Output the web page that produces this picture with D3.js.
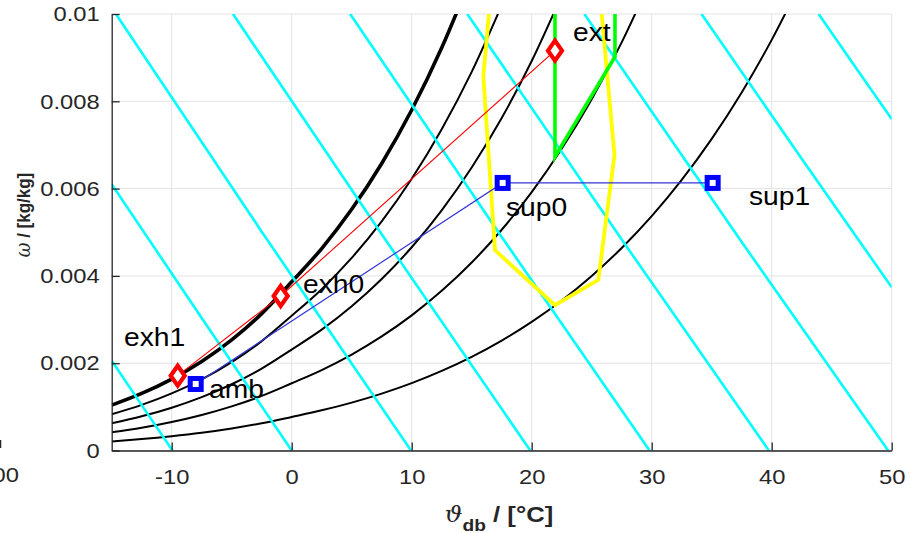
<!DOCTYPE html>
<html>
<head>
<meta charset="utf-8">
<script src="https://cdn.jsdelivr.net/npm/d3@7/dist/d3.min.js"></script>
<style>
  body { margin: 0; background: #fff; }
  svg { display: block; font-family: "Liberation Sans", Arial, sans-serif; }
</style>
</head>
<body>
<svg width="913" height="533"></svg>
<script>

// ---- chart values ----
var xTicks = [-10, 0, 10, 20, 30, 40, 50];
var xTickLabels = ["-10", "0", "10", "20", "30", "40", "50"];
var yTicks = [0, 0.002, 0.004, 0.006, 0.008, 0.01];
var yTickLabels = ["0", "0.002", "0.004", "0.006", "0.008", "0.01"];

// dry bulb temperatures used for the relative humidity curves
var rhTemps = [-15, -12.5, -10, -7.5, -5, -2.5, 0, 2.5, 5, 7.5, 10, 12.5, 15, 17.5,
               20, 22.5, 25, 27.5, 30, 32.5, 35, 37.5, 40, 42.5];
var rh100 = [0.00104, 0.001308, 0.001637, 0.002041, 0.002534, 0.003135, 0.003864, 0.004627,
             0.005525, 0.006575, 0.0078, 0.009225, 0.01088];
var rh80 = [0.000832, 0.001046, 0.001309, 0.001632, 0.002026, 0.002505, 0.003087, 0.003696,
            0.004412, 0.005249, 0.006224, 0.007359, 0.008674, 0.010197];
var rh60 = [0.000624, 0.000784, 0.000981, 0.001223, 0.001518, 0.001877, 0.002313, 0.002768,
            0.003303, 0.003928, 0.004656, 0.005503, 0.006483, 0.007617, 0.008923, 0.010426];
var rh40 = [0.000416, 0.000522, 0.000654, 0.000815, 0.001011, 0.00125, 0.00154, 0.001843,
            0.002198, 0.002613, 0.003096, 0.003658, 0.004307, 0.005057, 0.00592, 0.006912,
            0.008049, 0.00935, 0.010833];
var rh20 = [0.000208, 0.000261, 0.000327, 0.000407, 0.000505, 0.000624, 0.000769, 0.00092,
            0.001097, 0.001304, 0.001544, 0.001824, 0.002146, 0.002518, 0.002946, 0.003437,
            0.003999, 0.00464, 0.00537, 0.006199, 0.007139, 0.008204, 0.009407, 0.010762];

// constant enthalpy lines (kJ/kg): start / middle / end points
var enthalpy = [-10, 0, 10, 20, 30, 40, 50, 60, 70];
var hT = [[-15, -12.5, -9.94], [-15, -7.5, 0], [-14.65, -2.5, 9.94], [-4.89, 7.5, 19.88],
          [4.87, 17.5, 29.82], [14.63, 27.5, 39.76], [24.39, 37.5, 49.7], [34.15, 42.5, 50],
          [43.91, 47, 50]];
var hW = [[0.002058, 0.001039, 0], [0.006102, 0.003034, 0], [0.01, 0.005013, 0], [0.01, 0.004952, 0],
          [0.01, 0.004892, 0], [0.01, 0.004833, 0], [0.01, 0.004775, 0], [0.01, 0.006684, 0.003739],
          [0.01, 0.008777, 0.007595]];

// comfort zone (yellow) and green limit
var comfortT = [16.47, 15.97, 16.94, 21.94, 25.55, 26.9, 25.8];
var comfortW = [0.0101, 0.00858, 0.00459, 0.00333, 0.00391, 0.00677, 0.0101];
var greenT = [21.94, 21.94, 26.94, 26.94];
var greenW = [0.0101, 0.00673, 0.00902, 0.0101];

// process states
var exhNames = ["exh1", "exh0", "ext"];
var exhT = [-9.5, -0.92, 21.94];
var exhW = [0.001714, 0.00354, 0.00916];
var supNames = ["amb", "sup0", "sup1"];
var supT = [-8.0, 17.58, 35.08];
var supW = [0.001524, 0.00613, 0.00613];

// ---- layout ----
var svg = d3.select("svg");
var stretch = 1.13;
var x = d3.scaleLinear().domain([-15, 50]).range([111.7, 891.7]);
var y = d3.scaleLinear().domain([0, 0.01]).range([450.5, 14]);

var line = d3.line().x(function(d) { return x(d[0]); }).y(function(d) { return y(d[1]); });
var smooth = d3.line().curve(d3.curveMonotoneX)
    .x(function(d) { return x(d[0]); }).y(function(d) { return y(d[1]); });

function zip(a, b) { return a.map(function(v, i) { return [v, b[i]]; }); }

svg.append("defs").append("clipPath").attr("id", "plotclip")
  .append("rect")
    .attr("x", x(-15)).attr("y", y(0.01))
    .attr("width", x(50) - x(-15)).attr("height", y(0) - y(0.01));

// grid
var grid = svg.append("g").attr("stroke", "#e3e3e3").attr("stroke-width", 1);
grid.selectAll(".gx").data(xTicks).enter().append("line")
    .attr("x1", function(d) { return x(d); }).attr("x2", function(d) { return x(d); })
    .attr("y1", y(0)).attr("y2", y(0.01));
grid.selectAll(".gy").data(yTicks).enter().append("line")
    .attr("y1", function(d) { return y(d); }).attr("y2", function(d) { return y(d); })
    .attr("x1", x(-15)).attr("x2", x(50));

var plot = svg.append("g").attr("clip-path", "url(#plotclip)");

// relative humidity curves
var rhSeries = [rh100, rh80, rh60, rh40, rh20];
plot.selectAll(".rh").data(rhSeries).enter().append("path")
    .attr("fill", "none").attr("stroke", "#000")
    .attr("stroke-width", function(d, i) { return i === 0 ? 3.6 : 2; })
    .attr("d", function(d) { return smooth(zip(rhTemps.slice(0, d.length), d)); });

// enthalpy lines
plot.selectAll(".h").data(enthalpy).enter().append("path")
    .attr("fill", "none").attr("stroke", "#00ffff").attr("stroke-width", 2.6)
    .attr("d", function(d, i) { return line(zip(hT[i], hW[i])); });

// comfort zone and green limit
plot.append("path").attr("fill", "none").attr("stroke", "#ffff00").attr("stroke-width", 3.8)
    .attr("stroke-linejoin", "miter").attr("d", line(zip(comfortT, comfortW)));
plot.append("path").attr("fill", "none").attr("stroke", "#00ff00").attr("stroke-width", 3.6)
    .attr("d", line(zip(greenT, greenW)));

// process lines
svg.append("path").attr("fill", "none").attr("stroke", "#ff0000").attr("stroke-width", 1.1)
    .attr("d", line(zip(exhT, exhW)));
svg.append("path").attr("fill", "none").attr("stroke", "#3535d8").attr("stroke-width", 1.2)
    .attr("d", line(zip(supT, supW)));

// markers
svg.selectAll(".dia").data(exhT).enter().append("path")
    .attr("transform", function(d, i) { return "translate(" + x(d) + "," + y(exhW[i]) + ")"; })
    .attr("d", "M0,-10L7,0L0,10L-7,0Z")
    .attr("fill", "#fff").attr("stroke", "#ff0000").attr("stroke-width", 4.2);
svg.selectAll(".sq").data(supT).enter().append("rect")
    .attr("x", function(d) { return x(d) - 5.5; })
    .attr("y", function(d, i) { return y(supW[i]) - 5.5; })
    .attr("width", 11).attr("height", 11)
    .attr("fill", "#fff").attr("stroke", "#0000ff").attr("stroke-width", 5);

// point labels (pixel offsets from the marker)
var exhOff = [[-53.7, -29.7], [22.3, -3], [18, -9.7]];
var supOff = [[13.3, 14], [3.3, 32.7], [36.3, 22.3]];
function addText(px, py, str, size) {
  return svg.append("text")
      .attr("transform", "translate(" + px + "," + py + ") scale(" + stretch + ",1)")
      .style("font-size", size + "px").attr("fill", "#000").text(str);
}
exhNames.forEach(function(n, i) {
  addText(x(exhT[i]) + exhOff[i][0], y(exhW[i]) + exhOff[i][1], n, 25);
});
supNames.forEach(function(n, i) {
  addText(x(supT[i]) + supOff[i][0], y(supW[i]) + supOff[i][1], n, 25);
});

// axes
var gx = svg.append("g").attr("transform", "translate(0," + y(0) + ")")
    .call(d3.axisBottom(x).tickValues(xTicks).tickSizeInner(-8).tickSizeOuter(0).tickPadding(18.5)
          .tickFormat(function(d, i) { return xTickLabels[i]; }));
var gy = svg.append("g").attr("transform", "translate(" + x(-15) + ",0)")
    .call(d3.axisLeft(y).tickValues(yTicks).tickSizeInner(-8).tickSizeOuter(0)
          .tickPadding(12 / stretch).tickFormat(function(d, i) { return yTickLabels[i]; }));
[gx, gy].forEach(function(g) {
  g.attr("color", "#262626").attr("font-family", null).attr("font-size", null);
  g.select(".domain").attr("stroke-width", 1.3);
  g.selectAll(".tick line").attr("stroke-width", 1.3);
  g.selectAll(".tick text").attr("transform", "scale(" + stretch + ",1)")
      .style("font-size", "21px").attr("fill", "#262626");
});

// axis titles
var xt = svg.append("text")
    .attr("transform", "translate(499,522) scale(" + stretch + ",1)")
    .attr("text-anchor", "middle").attr("fill", "#262626");
xt.append("tspan").style("font-family", "'DejaVu Serif', serif").style("font-style", "italic")
    .style("font-size", "22px").text("\u03d1");
xt.append("tspan").style("font-weight", "bold").style("font-size", "17px").attr("dy", 9).text("db");
xt.append("tspan").style("font-weight", "bold").style("font-size", "22.7px").attr("dy", -9).text(" / [°C]");

var yt = svg.append("text")
    .attr("transform", "translate(30,215) scale(" + stretch + ",1) rotate(-90)")
    .attr("text-anchor", "middle").attr("fill", "#262626");
yt.append("tspan").style("font-family", "'DejaVu Serif', serif").style("font-style", "italic")
    .style("font-size", "18px").text("\u03c9");
yt.append("tspan").style("font-weight", "bold").style("font-size", "17px").text(" / [kg/kg]");

// edge of a neighbouring axes that is cut off at the left
svg.append("line").attr("x1", 0.6).attr("x2", 0.6).attr("y1", 440).attr("y2", 448)
    .attr("stroke", "#262626").attr("stroke-width", 1.3);
svg.append("text").attr("transform", "translate(19,481.7) scale(" + stretch + ",1)")
    .attr("text-anchor", "end").style("font-size", "21px").attr("fill", "#262626").text("100");

</script>
</body>
</html>
